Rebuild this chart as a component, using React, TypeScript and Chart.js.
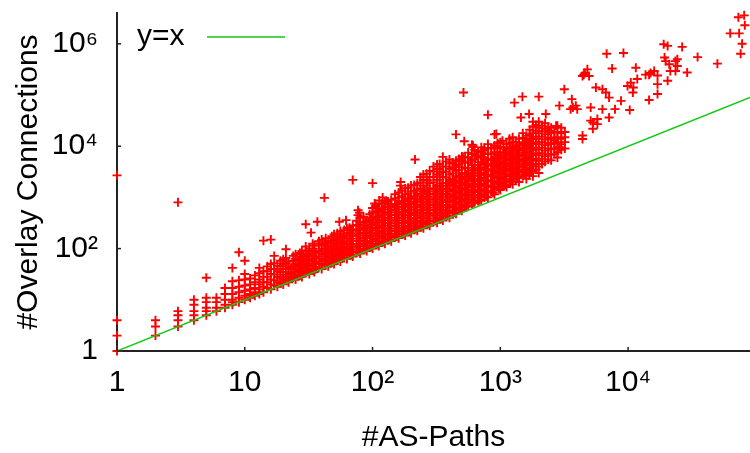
import React, { useEffect, useRef } from 'react';
import { Chart, registerables } from 'chart.js';

Chart.register(...registerables);

// ---- axis ticks / ranges ----
const xTicks = [1, 10, 100, 1000, 10000];
const xTickLabels = ['1', '10', '10²', '10³', '10⁴'];
const yTicks = [1, 100, 10000, 1000000];
const yTickLabels = ['1', '10²', '10⁴', '10⁶'];
const xRange = [1, 90000];
const yRange = [1, 4000000];
const xTitle = '#AS-Paths';
const yTitle = '#Overlay Connections';
const legendLabel = 'y=x';

// ---- data: [#AS-Paths, #Overlay Connections] ----
const lowPoints: [number, number][] = [
  [1, 1], [1, 2], [1, 4], [1, 2700],
  [2, 2], [2, 3], [2, 4],
  [3, 3], [3, 4], [3, 5], [3, 6], [3, 800],
  [4, 4], [4, 5], [4, 6], [4, 8], [4, 10],
  [5, 5], [5, 6], [5, 7], [5, 9], [5, 11], [5, 27],
  [6, 6], [6, 7], [6, 9], [6, 11],
  [7, 7], [7, 8], [7, 10], [7, 13], [7, 17],
  [8, 8], [8, 9], [8, 10], [8, 13], [8, 17], [8, 23], [8, 42],
  [9, 9], [9, 11], [9, 14], [9, 18], [9, 24], [9, 85],
  [10, 10], [10, 12], [10, 15], [10, 19], [10, 25], [10, 32], [10, 58],
];

// dense band: [#AS-Paths, list of #Overlay Connections]
const denseColumns: [number, number[]][] = [
  [11, [11, 13, 16, 20, 26]],
  [12, [12, 14, 17, 22, 30]],
  [13, [13, 16, 20, 25, 33, 42]],
  [14, [14, 18, 22, 28, 36]],
  [16, [16, 20, 25, 32, 40, 50]],
  [18, [18, 22, 28, 36, 46]],
  [20, [20, 25, 31, 40, 50, 62]],
  [22, [22, 28, 35, 45, 56]],
  [25, [25, 31, 40, 50, 63, 78]],
  [28, [28, 35, 44, 56, 70, 90]],
  [32, [32, 40, 50, 63, 80, 100]],
  [35, [35, 44, 56, 70, 90, 115]],
  [40, [40, 50, 63, 80, 100, 125, 150]],
  [45, [45, 56, 70, 90, 112, 140]],
  [50, [50, 63, 80, 100, 125, 160, 190]],
  [56, [56, 70, 90, 112, 140, 180, 220]],
  [63, [63, 80, 100, 125, 160, 200, 250]],
  [70, [70, 88, 110, 140, 180, 225, 280]],
  [80, [80, 100, 125, 160, 200, 250, 320, 400]],
  [90, [90, 112, 140, 180, 225, 280, 350]],
  [100, [100, 125, 160, 200, 250, 320, 400, 500, 620]],
  [112, [112, 140, 180, 225, 280, 350, 450, 560]],
  [125, [125, 160, 200, 250, 320, 400, 500, 640, 800]],
  [140, [140, 180, 225, 280, 350, 450, 560, 700, 900]],
  [160, [160, 200, 250, 320, 400, 500, 640, 800, 1000, 1250]],
  [180, [180, 225, 280, 350, 450, 560, 700, 900, 1150, 1500]],
  [200, [200, 250, 320, 400, 500, 640, 800, 1000, 1300, 1700]],
  [224, [224, 280, 350, 450, 560, 700, 900, 1150, 1450, 1900]],
  [250, [250, 320, 400, 500, 640, 800, 1000, 1300, 1700, 2200, 2800]],
  [280, [280, 350, 450, 560, 700, 900, 1150, 1450, 1900, 2500, 3300]],
  [320, [320, 400, 500, 640, 800, 1000, 1300, 1700, 2200, 2800, 3600, 4400]],
  [355, [355, 450, 560, 700, 900, 1150, 1450, 1900, 2500, 3200, 4000]],
  [400, [400, 500, 640, 800, 1000, 1300, 1700, 2200, 2800, 3600, 4600, 5500]],
  [450, [480, 600, 760, 960, 1200, 1550, 2000, 2600, 3300, 4200, 5200]],
  [500, [550, 700, 900, 1150, 1450, 1900, 2400, 3000, 3900, 5000, 6300]],
  [560, [700, 900, 1150, 1450, 1850, 2400, 3000, 3800, 4800, 6000, 7500]],
  [630, [800, 1000, 1300, 1650, 2100, 2700, 3400, 4300, 5500, 7000, 8500]],
  [710, [900, 1150, 1450, 1850, 2400, 3000, 3800, 4800, 6000, 7600, 9500]],
  [800, [1000, 1300, 1650, 2100, 2700, 3400, 4300, 5500, 7000, 9000, 11000]],
  [900, [1150, 1450, 1850, 2400, 3000, 3800, 4800, 6000, 7600, 9500]],
  [1000, [1400, 1800, 2300, 2900, 3700, 4700, 6000, 7600, 9600, 12000]],
  [1120, [1600, 2000, 2600, 3300, 4200, 5300, 6700, 8500, 11000]],
  [1250, [1800, 2300, 2900, 3700, 4700, 6000, 7600, 9600, 12000, 15000]],
  [1400, [2000, 2600, 3300, 4200, 5300, 6700, 8500, 11000, 14000]],
  [1600, [2300, 2900, 3700, 4700, 6000, 7600, 9600, 12000, 16000]],
  [1800, [2600, 3300, 4200, 5300, 6700, 8500, 11000, 14000, 18000, 24000, 30000]],
  [2000, [3000, 4000, 5200, 6700, 8600, 11000, 14000, 18000, 23000, 30000]],
  [2240, [5000, 6400, 8200, 10500, 13500, 17000, 22000, 28000]],
  [2500, [5300, 6800, 8700, 11000, 14000, 18000, 23000]],
  [2800, [6000, 7600, 9600, 12000, 15000, 19000, 25000]],
  [3200, [9000, 12000, 15000, 19000]],
];

// in-between columns of the dense band
const denseColumnsB: [number, number[]][] = [
  [15, [17, 22, 28, 36, 45]],
  [17, [19, 24, 31, 40, 52]],
  [19, [21, 27, 35, 45, 58]],
  [21, [24, 31, 40, 52, 66]],
  [24, [27, 35, 45, 58, 72]],
  [27, [30, 39, 50, 64, 82]],
  [30, [34, 44, 56, 72, 92, 110]],
  [34, [38, 49, 63, 80, 100, 125]],
  [38, [43, 55, 70, 90, 115, 140]],
  [43, [48, 62, 80, 100, 128, 160]],
  [48, [54, 70, 90, 112, 143, 175]],
  [53, [60, 77, 100, 125, 160, 200]],
  [60, [67, 86, 110, 140, 180, 230]],
  [66, [74, 95, 122, 155, 200, 255]],
  [75, [84, 108, 140, 178, 225, 290, 350]],
  [85, [95, 122, 156, 200, 255, 330, 420]],
  [95, [106, 136, 175, 225, 285, 365, 470]],
  [106, [119, 152, 195, 250, 320, 410, 530, 680]],
  [118, [132, 170, 218, 280, 360, 460, 590, 750]],
  [132, [148, 190, 245, 315, 400, 510, 650, 830]],
  [150, [168, 215, 275, 355, 450, 580, 740, 950, 1150]],
  [170, [190, 245, 315, 400, 510, 650, 830, 1060, 1350]],
  [190, [213, 275, 350, 450, 575, 735, 940, 1200, 1550]],
  [212, [238, 305, 390, 500, 640, 820, 1050, 1350, 1750]],
  [237, [265, 340, 435, 560, 715, 915, 1170, 1500, 1950, 2500]],
  [265, [300, 385, 490, 630, 800, 1030, 1320, 1700, 2200, 2900]],
  [300, [340, 435, 560, 715, 915, 1170, 1500, 1950, 2500, 3200, 4000]],
  [335, [380, 490, 630, 800, 1030, 1320, 1700, 2200, 2800, 3600, 4500]],
  [375, [425, 545, 700, 900, 1150, 1480, 1900, 2450, 3150, 4000, 5000]],
  [425, [520, 670, 860, 1100, 1400, 1800, 2300, 2950, 3800, 4800]],
  [475, [600, 770, 990, 1270, 1630, 2100, 2700, 3450, 4400, 5600]],
  [530, [650, 830, 1060, 1360, 1750, 2250, 2880, 3700, 4750, 6100]],
  [600, [760, 980, 1250, 1600, 2050, 2600, 3350, 4300, 5500, 7000]],
  [670, [850, 1100, 1400, 1800, 2300, 2950, 3800, 4900, 6300, 8000]],
  [750, [1000, 1280, 1650, 2100, 2700, 3450, 4400, 5650, 7200, 9200]],
  [850, [1300, 1650, 2100, 2700, 3450, 4400, 5650, 7200, 9200]],
  [950, [1600, 2050, 2600, 3350, 4300, 5500, 7000, 9000, 11500]],
  [1060, [1700, 2200, 2800, 3600, 4600, 5900, 7500, 9600]],
  [1180, [2000, 2600, 3300, 4200, 5400, 6900, 8800, 11300, 14000]],
  [1320, [2200, 2800, 3600, 4600, 5900, 7500, 9600, 12300]],
  [1500, [2600, 3300, 4200, 5400, 6900, 8800, 11300, 14500, 18000]],
  [1700, [3000, 3800, 4900, 6300, 8000, 10300, 13200, 17000, 21000]],
  [1900, [3500, 4500, 5700, 7300, 9400, 12000, 15400, 20000, 26000]],
  [2120, [4500, 5700, 7300, 9400, 12000, 15400, 19700, 25000]],
  [2370, [5500, 7000, 9000, 11500, 14700, 18800, 24000]],
  [2650, [7000, 9000, 11500, 14700, 18800]],
  [3000, [8500, 11000, 14000, 18000, 23000]],
];

// core of the dense band, close to the diagonal
const denseColumnsC: [number, number[]][] = [
  [23, [26, 33, 42]], [26, [29, 37, 47, 60]], [29, [33, 41, 53, 68]],
  [31, [36, 46, 58, 75]], [36, [40, 52, 66, 85]], [42, [47, 60, 76, 97, 120]],
  [47, [52, 67, 85, 108, 135]], [52, [58, 74, 94, 120, 150]], [58, [65, 83, 105, 134, 170]],
  [68, [76, 97, 123, 157, 200, 240]], [78, [87, 111, 141, 180, 230, 290]],
  [88, [98, 126, 160, 205, 260, 330]], [98, [110, 140, 178, 227, 290, 370]],
  [110, [123, 157, 200, 255, 325, 415, 520]], [122, [137, 175, 222, 283, 360, 460, 580]],
  [136, [152, 194, 247, 315, 400, 510, 650]], [155, [173, 221, 282, 360, 460, 585, 745]],
  [175, [196, 250, 320, 408, 520, 662, 845]], [195, [218, 278, 355, 452, 577, 735, 940]],
  [218, [244, 311, 397, 506, 645, 822, 1050]], [243, [272, 347, 442, 564, 720, 918, 1170]],
  [272, [305, 389, 496, 632, 806, 1030, 1310]], [310, [350, 446, 569, 726, 925, 1180, 1500]],
  [345, [390, 497, 634, 808, 1030, 1310, 1680]], [385, [440, 561, 716, 913, 1160, 1480, 1890]],
  [435, [500, 638, 813, 1040, 1320, 1690, 2150]], [490, [580, 740, 943, 1200, 1530, 1960, 2500]],
  [545, [660, 842, 1070, 1370, 1750, 2230, 2840]], [615, [780, 995, 1270, 1620, 2060, 2630, 3350]],
  [690, [880, 1120, 1430, 1830, 2330, 2970, 3790]], [775, [1050, 1340, 1710, 2180, 2780, 3550, 4520]],
  [875, [1250, 1590, 2030, 2590, 3300, 4210, 5370]], [975, [1500, 1910, 2440, 3110, 3970, 5060, 6450]],
  [1090, [1750, 2230, 2850, 3630, 4630, 5900, 7530]], [1210, [2050, 2610, 3330, 4250, 5420, 6910, 8810]],
  [1360, [2400, 3060, 3900, 4980, 6350, 8100, 10300]], [1550, [2800, 3570, 4550, 5800, 7400, 9440, 12000]],
  [1750, [3300, 4210, 5370, 6850, 8730, 11100, 14200]],
];

const midOutliers: [number, number][] = [
  [14, 143], [16, 150], [21, 97], [17, 72], [30, 300], [37, 335], [33, 205],
  [42, 980], [55, 335], [62, 360], [77, 450], [79, 500], [104, 760], [109, 610],
  [70, 2200], [100, 1900], [128, 850], [113, 870], [120, 1000], [38, 137], [77, 560],
  [215, 5500], [355, 6200], [600, 10700], [750, 8500], [166, 2000], [270, 2150],
  [355, 3100], [165, 1700], [255, 1370], [400, 2000], [440, 3900], [480, 5300],
  [510, 6100], [590, 5300], [650, 6600], [730, 6100], [610, 10300], [900, 17000],
  [900, 10300], [515, 112000], [800, 41000], [450, 17000], [522, 12500],
  [730, 8200], [610, 9600],
];

const highPoints: [number, number][] = [
  [1290, 71000], [1490, 93000], [2000, 93000], [3170, 130000], [4800, 317000],
  [4950, 236000], [4400, 236000], [5600, 140000], [2900, 62000], [3550, 53000],
  [3900, 62000], [4400, 13800], [5100, 57000], [5300, 29000], [5750, 27000],
  [930, 17400], [1040, 12800], [1450, 36500], [1680, 42600], [2270, 42600],
  [2730, 25000], [2420, 20000], [2660, 12900], [2900, 9600], [1680, 2700],
  [6800, 640000], [9200, 660000], [7500, 330000], [4600, 270000], [11500, 340000],
  [10500, 175000], [9900, 150000], [10900, 112000], [14600, 250000], [16000, 295000],
  [17000, 163000], [17000, 105000], [14600, 80000], [19000, 980000], [20400, 910000],
  [26500, 870000], [19700, 460000], [21000, 400000], [24300, 500000], [23500, 295000],
  [20400, 190000], [29000, 275000], [35000, 550000], [50000, 410000], [63000, 1600000],
  [74000, 1600000], [78000, 1000000], [76000, 640000], [82000, 2300000], [3630, 83000],
  [3700, 57000], [4000, 53000], [6300, 53000], [5100, 31600], [5750, 34000],
  [7100, 36500], [5300, 22000], [4400, 16200], [7900, 53000], [8800, 77000],
  [6300, 130000], [6700, 112000], [7100, 89000], [10300, 51000], [4500, 250000],
  [13700, 250000], [15000, 270000], [11000, 140000], [11800, 205000], [17000, 240000],
  [19300, 540000], [23500, 460000], [24300, 370000], [21400, 295000], [73000, 3300000],
  [81000, 3600000],
];

const identityLine: [number, number][] = [[1, 1], [90000, 90000]];

const FONT = '"Liberation Sans", Arial, Helvetica, sans-serif';
const RED = '#ff0000';
const GREEN = '#14c814';
const AXIS = '#222222';

const overlayPlugin = {
  id: 'gnuplotOverlay',
  afterDraw(chart: any) {
    const { ctx, chartArea, scales } = chart;
    ctx.save();
    ctx.strokeStyle = AXIS;
    ctx.lineWidth = 1.5;
    xTicks.forEach((v) => {
      const px = scales.x.getPixelForValue(v);
      ctx.beginPath();
      ctx.moveTo(px, chartArea.bottom);
      ctx.lineTo(px, chartArea.bottom - 4);
      ctx.stroke();
    });
    yTicks.forEach((v) => {
      const py = scales.y.getPixelForValue(v);
      ctx.beginPath();
      ctx.moveTo(chartArea.left, py);
      ctx.lineTo(chartArea.left + 4, py);
      ctx.stroke();
    });
    // legend
    const ly = chartArea.top + 24;
    ctx.font = `30px ${FONT}`;
    ctx.fillStyle = '#000';
    ctx.textAlign = 'left';
    ctx.textBaseline = 'middle';
    ctx.fillText(legendLabel, chartArea.left + 20, ly);
    ctx.strokeStyle = GREEN;
    ctx.lineWidth = 1.5;
    ctx.beginPath();
    ctx.moveTo(chartArea.left + 90, ly);
    ctx.lineTo(chartArea.left + 168, ly);
    ctx.stroke();
    ctx.restore();
  },
};

export default function App() {
  const ref = useRef<HTMLCanvasElement | null>(null);

  useEffect(() => {
    if (!ref.current) return;
    Chart.defaults.font.family = FONT;
    const points: { x: number; y: number }[] = [];
    lowPoints.forEach(([x, y]) => points.push({ x, y }));
    [denseColumns, denseColumnsB, denseColumnsC].forEach((cols) =>
      cols.forEach(([x, ys]) => ys.forEach((y) => points.push({ x, y }))),
    );
    midOutliers.forEach(([x, y]) => points.push({ x, y }));
    highPoints.forEach(([x, y]) => points.push({ x, y }));

    const chart = new Chart(ref.current, {
      type: 'scatter',
      data: {
        datasets: [
          {
            type: 'line',
            label: legendLabel,
            data: identityLine.map(([x, y]) => ({ x, y })),
            borderColor: GREEN,
            borderWidth: 1.5,
            pointRadius: 0,
            fill: false,
          } as any,
          {
            label: 'data',
            data: points,
            pointStyle: 'cross',
            pointRadius: 4.5,
            pointHoverRadius: 4.5,
            pointBorderWidth: 1.9,
            borderColor: RED,
            backgroundColor: RED,
            clip: false,
          } as any,
        ],
      },
      options: {
        animation: false,
        responsive: false,
        events: [],
        layout: { autoPadding: false, padding: { top: 13, right: 0, left: 0, bottom: 0 } },
        plugins: { legend: { display: false }, tooltip: { enabled: false } },
        scales: {
          x: {
            type: 'logarithmic',
            position: 'bottom',
            min: xRange[0],
            max: xRange[1],
            afterBuildTicks: (s: any) => {
              s.ticks = xTicks.map((v) => ({ value: v }));
            },
            afterFit: (s: any) => {
              s.height = 102;
              s.paddingLeft = 0;
              s.paddingRight = 0;
              s.paddingTop = 0;
              s.paddingBottom = 0;
            },
            grid: { display: false, drawTicks: false },
            border: { display: true, color: AXIS, width: 2 },
            ticks: {
              autoSkip: false,
              maxRotation: 0,
              padding: 14,
              color: '#000',
              font: { size: 30, family: FONT },
              callback: (v: any) => xTickLabels[xTicks.indexOf(Number(v))] ?? '',
            },
            title: {
              display: true,
              text: xTitle,
              color: '#000',
              font: { size: 30, family: FONT, lineHeight: 1 },
              padding: { top: 0, bottom: 0 },
            },
          },
          y: {
            type: 'logarithmic',
            position: 'left',
            min: yRange[0],
            max: yRange[1],
            afterBuildTicks: (s: any) => {
              s.ticks = yTicks.map((v) => ({ value: v }));
            },
            afterFit: (s: any) => {
              s.width = 117;
              s.paddingLeft = 0;
              s.paddingRight = 0;
              s.paddingTop = 0;
              s.paddingBottom = 0;
            },
            grid: { display: false, drawTicks: false },
            border: { display: true, color: AXIS, width: 2 },
            ticks: {
              autoSkip: false,
              padding: 19,
              color: '#000',
              font: { size: 30, family: FONT },
              callback: (v: any) => yTickLabels[yTicks.indexOf(Number(v))] ?? '',
            },
            title: {
              display: true,
              text: yTitle,
              color: '#000',
              font: { size: 30, family: FONT, lineHeight: 1.2 },
              padding: { top: 11, bottom: 0 },
            },
          },
        },
      },
      plugins: [overlayPlugin],
    } as any);
    return () => chart.destroy();
  }, []);

  return (
    <div style={{ position: 'fixed', left: 0, top: 0, width: 750, height: 453, background: '#fff' }}>
      <canvas ref={ref} width={750} height={453} style={{ display: 'block' }} />
    </div>
  );
}
